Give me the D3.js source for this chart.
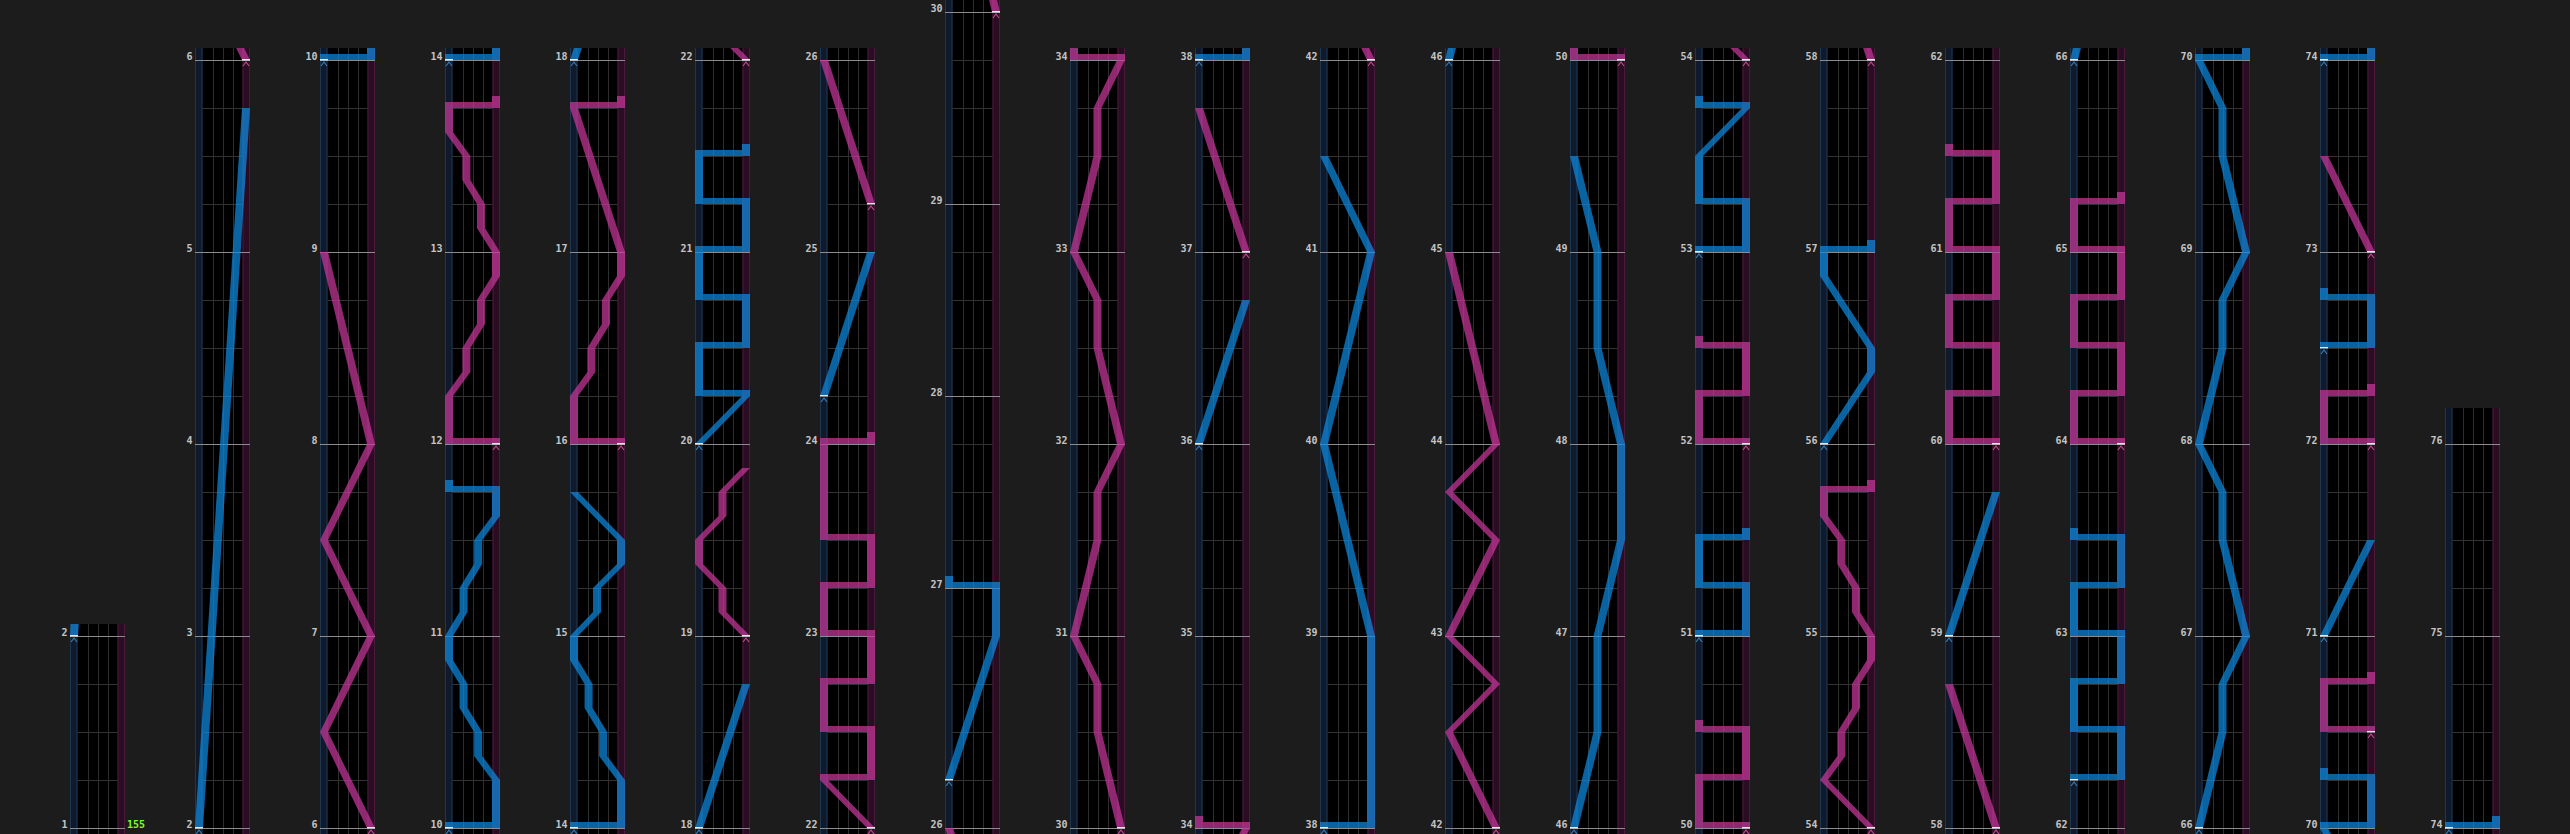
<!DOCTYPE html>
<html>
<head>
<meta charset="utf-8">
<script src="https://cdn.jsdelivr.net/npm/d3@7/dist/d3.min.js"></script>
<style>
html,body{margin:0;padding:0;background:#1c1c1c;overflow:hidden}
svg{display:block}
</style>
</head>
<body>
<svg id="chart" width="2570" height="834"></svg>
<script>
// ---------------- DATA ----------------
// measures with a non-4/4 length: [measure, beats]
const measureBeatExceptions = [[26, 5]];
// first / last measure line shown in each column
const columnFirstMeasure = [1, 2, 6, 10, 14, 18, 22, 26, 30, 34, 38, 42, 46, 50, 54, 58, 62, 66, 70, 74];
const columnLastMeasure  = [2, 6, 10, 14, 18, 22, 26, 30, 34, 38, 42, 46, 50, 54, 58, 62, 66, 70, 74, 76];
const songEndBeatAfterLastMeasure = 0.5;
// BPM markers
const bpmMeasures = [1];
const bpmValues = [155];
// lasers: each laser = list of [beat from song start, position 0 (left) .. 1 (right)]
// equal consecutive beats = slam
const leftLaser = [
  [[4,0],[19,1]],
  [[36,0],[36,1],[37,1],[37.5,0.62],[38,0.62],[38.5,0.31],[39,0.31],[39.5,0],[40,0],[40.5,0.31],[41,0.31],[41.5,0.62],[42,0.62],[42.5,1],[43,1],[43,0]],
  [[52,0],[52,1],[53,1],[53.5,0.62],[54,0.62],[54.5,0.31],[55,0.31],[55.5,0],[56,0],[56.5,0.49],[57,0.49],[57.5,1],[58,1],[59,0]],
  [[68,0],[71,1]],
  [[76,0],[77,1],[77,0],[78,0],[78,1],[79,1],[79,0],[80,0],[80,1],[81,1],[81,0],[82,0],[82,1]],
  [[93,0],[96,1]],
  [[101,0],[104,1],[105,1],[105,0]],
  [[141,0],[144,1]],
  [[149,0],[149,1],[153,1],[157,0],[161,1],[163,0]],
  [[181,0],[183,0.5],[185,0.5],[187,1],[189,1],[191,0.5],[193,0.5],[195,0]],
  [[201,0],[201,1],[202,1],[202,0],[203,0],[203,1]],
  [[209,0],[209,1],[210,1],[210,0],[211,0],[212,1],[212,0]],
  [[221,0],[222.5,1],[223,1],[224.5,0],[225,0],[225,1]],
  [[233,0],[236,1]],
  [[246,0],[246,1],[247,1],[247,0],[248,0],[248,1],[249,1],[249,0],[250,0],[250,1],[251,1],[251,0]],
  [[261,0],[263,0.5],[264,0.5],[265,1],[267,0.5],[268,0.5],[269,0],[271,0.5],[272,0.5],[273,1],[275,0.5],[276,0.5],[277,0],[277,1],[278,1],[278,0]],
  [[281,0],[283,1]],
  [[287,0],[287,1],[288,1],[288,0]],
  [[293,0],[293,1]]
];
const rightLaser = [
  [[20,1],[22,0],[24,1],[26,0],[28,1],[32,0]],
  [[44,1],[44,0],[45,0],[45.5,0.37],[46,0.37],[46.5,0.68],[47,0.68],[47.5,1],[48,1],[48.5,0.68],[49,0.68],[49.5,0.37],[50,0.37],[50.5,0],[51,0],[51,1]],
  [[60,1],[60,0],[61,0],[61.5,0.37],[62,0.37],[62.5,0.68],[63,0.68],[63.5,1],[64,1],[67,0],[67,1]],
  [[72,1],[72.5,0.5],[73,0.5],[73.5,0],[74,0],[74.5,0.5],[75,0.5],[75.5,1]],
  [[84,1],[85,0],[85,1],[86,1],[86,0],[87,0],[87,1],[88,1],[88,0],[89,0],[89,1],[90,1],[90,0],[92,0],[92,1]],
  [[97,1],[100,0]],
  [[117,1],[119,0.5],[120,0.5],[121,0],[123,0.5],[124,0.5],[125,1],[127,0.5],[128,0.5],[129,0],[131,0.5],[132,0.5],[133,1],[133,0]],
  [[145,1],[148,0]],
  [[165,1],[167,0],[168,1],[169,0],[171,1],[172,0],[173,1],[177,0]],
  [[197,1],[197,0],[198,0],[198,1],[199,1],[199,0]],
  [[205,1],[205,0],[206,0],[206,1],[207,1],[207,0]],
  [[213,1],[214,0],[214.5,0.37],[215,0.37],[215.5,0.68],[216,0.68],[216.5,1],[217,1],[217.5,0.68],[218,0.68],[218.5,0.37],[219,0.37],[219.5,0],[220,0],[220,1]],
  [[229,1],[232,0]],
  [[237,1],[237,0],[238,0],[238,1],[239,1],[239,0],[240,0],[240,1],[241,1],[241,0],[242,0],[242,1],[243,1],[243,0]],
  [[253,1],[253,0],[254,0],[254,1],[255,1],[255,0],[256,0],[256,1],[257,1],[257,0],[258,0],[258,1]],
  [[279,1],[279,0],[280,0],[280,1]],
  [[285,1],[285,0],[286,0],[286,1]],
  [[289,1],[291,0]]
];

// ---------------- LAYOUT ----------------
const W = 2570, H = 834;
const colX0 = 70, colStep = 125, colW = 55;
const fxW = 7.5;
const baseY = 828, pxPerBeat = 48;
const laserW = 8, slamH = 6, tailH = 12;
const topPadBeats = 0.25;

const exc = new Map(measureBeatExceptions);
const beatsIn = m => exc.has(m) ? exc.get(m) : 4;
function beatOf(m){ let b = 0; for (let i = 1; i < m; i++) b += beatsIn(i); return b; }

const svg = d3.select('#chart');
svg.append('rect').attr('width', W).attr('height', H).attr('fill', '#1c1c1c');
const defs = svg.append('defs');

const xPos = d3.scaleLinear().domain([0, 1]).range([0, colW - laserW]);

function pieces(pts){
  const out = [];
  for (let i = 0; i < pts.length - 1; i++){
    const [t1, p1] = pts[i], [t2, p2] = pts[i + 1];
    if (t1 === t2) out.push({type: 'slam', t: t1, a: p1, b: p2});
    else out.push({type: 'seg', t1, p1, t2, p2});
  }
  const n = pts.length;
  if (n >= 2 && pts[n - 1][0] === pts[n - 2][0]) out.push({type: 'tail', t: pts[n - 1][0], p: pts[n - 1][1]});
  return out;
}

const nCols = columnFirstMeasure.length;
columnFirstMeasure.forEach((m0, ci) => {
  const m1 = columnLastMeasure[ci];
  const b0 = beatOf(m0), b1 = beatOf(m1);
  const isLast = ci === nCols - 1;
  const topBeat = b1 + (isLast ? songEndBeatAfterLastMeasure : 0) + topPadBeats;
  const y = d3.scaleLinear().domain([b0, b1]).range([baseY, baseY - (b1 - b0) * pxPerBeat]);
  const yTop = y(topBeat), yBot = H + 10;
  const x0 = colX0 + ci * colStep;

  const g = svg.append('g').attr('transform', `translate(${x0},0)`);
  const clipId = 'clip' + ci;
  defs.append('clipPath').attr('id', clipId)
    .append('rect').attr('x', 0).attr('y', yTop).attr('width', colW).attr('height', yBot - yTop);
  const cg = g.append('g').attr('clip-path', `url(#${clipId})`);

  // lanes
  cg.append('rect').attr('x', 0).attr('y', yTop).attr('width', colW).attr('height', yBot - yTop).attr('fill', '#000');
  cg.append('rect').attr('x', 0).attr('y', yTop).attr('width', fxW).attr('height', yBot - yTop).attr('fill', '#0f1a2c');
  cg.append('rect').attr('x', colW - fxW).attr('y', yTop).attr('width', fxW).attr('height', yBot - yTop).attr('fill', '#2a0d22');
  [[0.5, '#1f3651'], [fxW - 0.5, '#1f3651'], [colW - fxW + 0.5, '#4a1a3c'], [colW - 0.5, '#4a1a3c']].forEach(([x, c]) => {
    cg.append('line').attr('x1', x).attr('x2', x).attr('y1', yTop).attr('y2', yBot).attr('stroke', c).attr('stroke-width', 1);
  });
  [1, 2, 3].forEach(k => {
    const x = Math.round(fxW + k * 10) + 0.5;
    cg.append('line').attr('x1', x).attr('x2', x).attr('y1', yTop).attr('y2', yBot).attr('stroke', '#2e2e2e');
  });

  // beat lines
  const measureBeats = new Set();
  for (let m = m0; m <= m1; m++) measureBeats.add(beatOf(m));
  const beats = d3.range(Math.floor(b0) - 1, Math.ceil(topBeat) + 1).filter(b => !measureBeats.has(b) && y(b) > yTop);
  cg.selectAll('line.beat').data(beats).enter().append('line')
    .attr('x1', fxW).attr('x2', colW - fxW)
    .attr('y1', b => y(b) + 0.5).attr('y2', b => y(b) + 0.5)
    .attr('stroke', '#333');

  // measure lines
  const measures = d3.range(m0, m1 + 1);
  cg.selectAll('line.meas').data(measures).enter().append('line')
    .attr('x1', 0).attr('x2', colW)
    .attr('y1', m => y(beatOf(m)) + 0.5).attr('y2', m => y(beatOf(m)) + 0.5)
    .attr('stroke', '#8c8c8c');

  // lasers
  [[leftLaser, '#0f8ae0', '#3d78a6'], [rightLaser, '#c8389c', '#b0508c']].forEach(([set, col, chev]) => {
    set.forEach(pts => {
      const lg = cg.append('g').attr('opacity', 0.72).attr('fill', col);
      pieces(pts).forEach(p => {
        if (p.type === 'seg'){
          const xa = xPos(p.p1), xb = xPos(p.p2), ya = y(p.t1), yb = y(p.t2);
          lg.append('path').attr('d', `M${xa},${ya}L${xa + laserW},${ya}L${xb + laserW},${yb}L${xb},${yb}Z`);
        } else if (p.type === 'slam'){
          const xa = Math.min(xPos(p.a), xPos(p.b)), xb = Math.max(xPos(p.a), xPos(p.b)) + laserW;
          lg.append('rect').attr('x', xa).attr('y', y(p.t) - slamH).attr('width', xb - xa).attr('height', slamH);
        } else {
          lg.append('rect').attr('x', xPos(p.p)).attr('y', y(p.t) - tailH).attr('width', laserW).attr('height', tailH);
        }
      });
      // start marker
      const [ts, ps] = pts[0];
      const xs = xPos(ps), ys = y(ts);
      cg.append('rect').attr('x', xs).attr('y', ys - 1).attr('width', laserW).attr('height', 1.5).attr('fill', '#e6e6e6');
      cg.append('path').attr('d', `M${xs + 1},${ys + 6}L${xs + 4},${ys + 2}L${xs + 7},${ys + 6}`)
        .attr('fill', 'none').attr('stroke', chev).attr('stroke-width', 1.2);
    });
  });

  // measure labels
  g.selectAll('text.lbl').data(measures).enter().append('text')
    .attr('x', -2.5).attr('y', m => y(beatOf(m)))
    .attr('text-anchor', 'end')
    .attr('font-family', 'DejaVu Sans Mono, monospace').attr('font-weight', 'bold').attr('font-size', 10)
    .attr('fill', '#c4c4c4')
    .text(m => m);

  // bpm labels
  bpmMeasures.forEach((bm, i) => {
    const owner = columnFirstMeasure.findIndex((f, k) => bm >= f && bm < columnLastMeasure[k]);
    if (ci === owner){
      g.append('text').attr('x', colW + 2).attr('y', y(beatOf(bm)))
        .attr('font-family', 'DejaVu Sans Mono, monospace').attr('font-weight', 'bold').attr('font-size', 10)
        .attr('fill', '#7fff1e').text(bpmValues[i]);
    }
  });
});
</script>
</body>
</html>
